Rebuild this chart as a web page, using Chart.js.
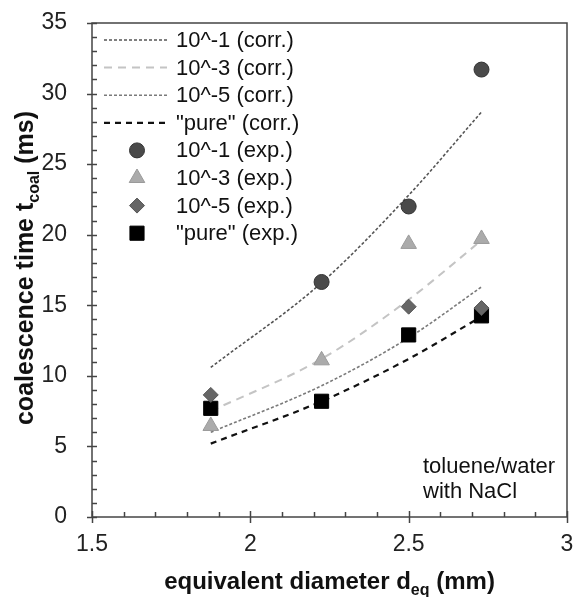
<!DOCTYPE html>
<html>
<head>
<meta charset="utf-8">
<script src="https://cdn.jsdelivr.net/npm/chart.js@4/dist/chart.umd.min.js"></script>
<style>
html,body{margin:0;padding:0;background:#fff;}
canvas{display:block;}
</style>
</head>
<body>
<canvas id="c" width="578" height="597"></canvas>
<script>
// ---- data ----
const dCorr = [1.875, 2.225, 2.5, 2.73];
const corr1 = [10.6, 16.6, 22.8, 28.7];     // 10^-1 (corr.)
const corr3 = [7.5, 11.2, 15.4, 19.6];      // 10^-3 (corr.)
const corr5 = [6.0, 9.3, 12.7, 16.3];       // 10^-5 (corr.)
const corrPure = [5.2, 8.2, 11.2, 14.2];    // "pure" (corr.)

const dExp1 = [2.225, 2.5, 2.73];
const exp1 = [16.65, 22.0, 31.7];           // 10^-1 (exp.)
const dExp3 = [1.875, 2.225, 2.5, 2.73];
const exp3 = [6.45, 11.1, 19.35, 19.7];     // 10^-3 (exp.)
const dExp5 = [1.875, 2.5, 2.73];
const exp5 = [8.65, 14.9, 14.8];            // 10^-5 (exp.)
const dExpPure = [1.875, 2.225, 2.5, 2.73];
const expPure = [7.7, 8.2, 12.9, 14.25];    // "pure" (exp.)

const xTicks = [1.5, 2, 2.5, 3];
const yTicks = [0, 5, 10, 15, 20, 25, 30, 35];
const seriesLabels = ['10^-1 (corr.)', '10^-3 (corr.)', '10^-5 (corr.)', '"pure" (corr.)',
                      '10^-1 (exp.)', '10^-3 (exp.)', '10^-5 (exp.)', '"pure" (exp.)'];

const FONT = '"Liberation Sans", Arial, sans-serif';
const pts = (xs, ys) => xs.map((x, i) => ({x: x, y: ys[i]}));

const styles = {
  c1: {color: '#555555', dash: [3, 2], width: 1.6},
  c3: {color: '#c4c4c4', dash: [8, 6], width: 2},
  c5: {color: '#7a7a7a', dash: [3, 2], width: 1.6},
  cp: {color: '#111111', dash: [6, 5], width: 2.2},
  e1: {style: 'circle', r: 7.5, fill: '#4a4a4a', stroke: '#333333'},
  e3: {style: 'triangle', r: 9, fill: '#ababab', stroke: '#9a9a9a'},
  e5: {style: 'rectRot', r: 7.5, fill: '#666666', stroke: '#555555'},
  ep: {style: 'rect', r: 10, fill: '#000000', stroke: '#000000'}
};

function lineDs(label, xs, ys, s) {
  return {type: 'line', label: label, data: pts(xs, ys), borderColor: s.color, borderDash: s.dash,
          borderWidth: s.width, pointRadius: 0, fill: false, cubicInterpolationMode: 'monotone'};
}
function scatDs(label, xs, ys, s) {
  return {type: 'scatter', label: label, data: pts(xs, ys), pointStyle: s.style, pointRadius: s.r,
          pointHoverRadius: s.r, backgroundColor: s.fill, borderColor: s.stroke, borderWidth: 1};
}

const datasets = [
  scatDs(seriesLabels[4], dExp1, exp1, styles.e1),
  scatDs(seriesLabels[5], dExp3, exp3, styles.e3),
  scatDs(seriesLabels[6], dExp5, exp5, styles.e5),
  scatDs(seriesLabels[7], dExpPure, expPure, styles.ep),
  lineDs(seriesLabels[0], dCorr, corr1, styles.c1),
  lineDs(seriesLabels[1], dCorr, corr3, styles.c3),
  lineDs(seriesLabels[2], dCorr, corr5, styles.c5),
  lineDs(seriesLabels[3], dCorr, corrPure, styles.cp)
];

const decor = {
  id: 'decor',
  afterDraw(chart) {
    const ctx = chart.ctx, a = chart.chartArea;
    const xs = chart.scales.x, ys = chart.scales.y;
    ctx.save();
    // box
    ctx.strokeStyle = '#444';
    ctx.lineWidth = 1.5;
    ctx.setLineDash([]);
    ctx.strokeRect(a.left, a.top, a.right - a.left, a.bottom - a.top);
    // y ticks
    for (let v = 0; v <= 35; v += 1) {
      const y = Math.round(ys.getPixelForValue(v)) + 0.5;
      ctx.beginPath();
      if (v % 5 === 0) { ctx.moveTo(a.left - 5, y); ctx.lineTo(a.left + 5, y); }
      else { ctx.moveTo(a.left, y); ctx.lineTo(a.left + 5, y); }
      ctx.stroke();
    }
    // x ticks
    for (let i = 0; i <= 15; i++) {
      const v = 1.5 + i * 0.1;
      const x = Math.round(xs.getPixelForValue(v)) + 0.5;
      ctx.beginPath();
      if (i % 5 === 0) { ctx.moveTo(x, a.bottom + 6); ctx.lineTo(x, a.bottom - 6); }
      else { ctx.moveTo(x, a.bottom); ctx.lineTo(x, a.bottom - 5); }
      ctx.stroke();
    }
    ctx.restore();

    // axis titles
    ctx.save();
    ctx.fillStyle = '#111';
    ctx.textBaseline = 'alphabetic';
    let big = 'bold 24px ' + FONT, small = 'bold 16px ' + FONT;
    // x title
    const xParts = [['equivalent diameter d', big, 0], ['eq', small, 6], [' (mm)', big, 0]];
    let w = 0;
    xParts.forEach(p => { ctx.font = p[1]; w += ctx.measureText(p[0]).width; });
    let x0 = (a.left + a.right) / 2 - w / 2;
    xParts.forEach(p => { ctx.font = p[1]; ctx.fillText(p[0], x0, 589 + p[2]); x0 += ctx.measureText(p[0]).width; });
    // y title
    big = 'bold 25px ' + FONT; small = 'bold 16px ' + FONT;
    ctx.translate(33, 268);
    ctx.rotate(-Math.PI / 2);
    const yParts = [['coalescence time t', big, 0], ['coal', small, 6], [' (ms)', big, 0]];
    w = 0;
    yParts.forEach(p => { ctx.font = p[1]; w += ctx.measureText(p[0]).width; });
    x0 = -w / 2;
    yParts.forEach(p => { ctx.font = p[1]; ctx.fillText(p[0], x0, p[2]); x0 += ctx.measureText(p[0]).width; });
    ctx.restore();

    // legend
    ctx.save();
    const rowY0 = 40, rowH = 27.6;
    const lines = [styles.c1, styles.c3, styles.c5, styles.cp];
    const marks = [styles.e1, styles.e3, styles.e5, styles.ep];
    ctx.font = '22px ' + FONT;
    ctx.textBaseline = 'middle';
    ctx.fillStyle = '#111';
    for (let i = 0; i < 8; i++) {
      const y = rowY0 + i * rowH;
      if (i < 4) {
        const s = lines[i];
        ctx.save();
        ctx.strokeStyle = s.color; ctx.lineWidth = s.width; ctx.setLineDash(s.dash);
        ctx.beginPath(); ctx.moveTo(104, y); ctx.lineTo(167, y); ctx.stroke();
        ctx.restore();
      } else {
        const s = marks[i - 4];
        ctx.save();
        ctx.fillStyle = s.fill; ctx.strokeStyle = s.stroke; ctx.lineWidth = 1;
        Chart.helpers.drawPoint(ctx, {pointStyle: s.style, radius: s.r, borderWidth: 1, rotation: 0}, 137, y);
        ctx.restore();
      }
      ctx.fillText(seriesLabels[i], 176, y + 1);
    }
    // annotation
    ctx.textBaseline = 'alphabetic';
    ctx.fillText('toluene/water', 423, 473);
    ctx.fillText('with NaCl', 423, 498);
    ctx.restore();
  }
};

new Chart(document.getElementById('c'), {
  data: {datasets: datasets},
  options: {
    responsive: false,
    animation: false,
    devicePixelRatio: 1,
    layout: {padding: {left: 0, right: 3, top: 23, bottom: 0}},
    plugins: {legend: {display: false}, tooltip: {enabled: false}},
    scales: {
      x: {
        type: 'linear', min: 1.5, max: 3,
        afterBuildTicks: s => { s.ticks = xTicks.map(v => ({value: v})); },
        afterFit: s => { s.height = 80; s.paddingLeft = 0; s.paddingRight = 0; },
        grid: {display: false, drawTicks: true, tickLength: 14},
        border: {display: false},
        ticks: {font: {family: FONT, size: 23}, color: '#222', padding: 0, maxRotation: 0,
                callback: v => String(v)}
      },
      y: {
        type: 'linear', min: 0, max: 35,
        afterBuildTicks: s => { s.ticks = yTicks.map(v => ({value: v})); },
        afterFit: s => { s.width = 92; s.paddingTop = 0; s.paddingBottom = 0; },
        grid: {display: false, drawTicks: true, tickLength: 23},
        border: {display: false},
        ticks: {font: {family: FONT, size: 23}, color: '#222', padding: 2,
                callback: v => String(v)}
      }
    }
  },
  plugins: [decor]
});
</script>
</body>
</html>
